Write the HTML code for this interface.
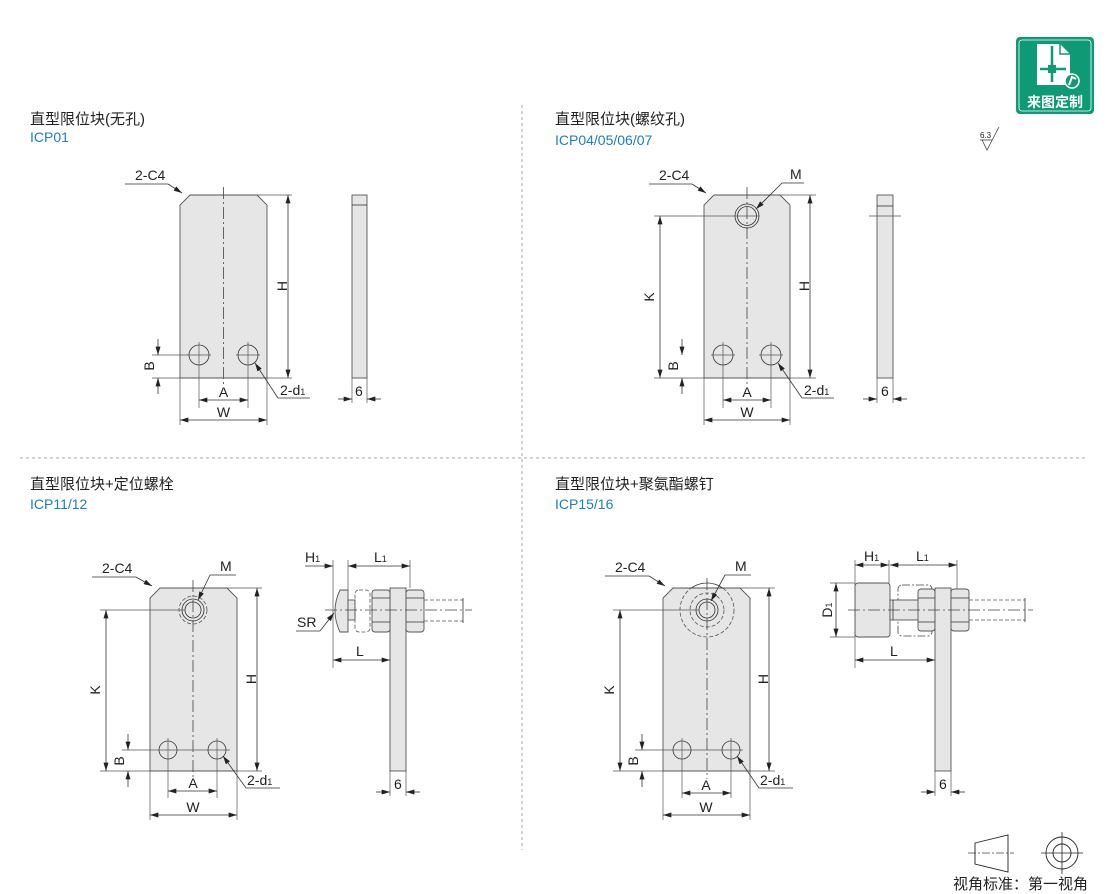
<!DOCTYPE html>
<html><head><meta charset="utf-8"><style>
html,body{margin:0;padding:0;background:#fff;}
svg{display:block;}
text{font-family:"Liberation Sans","Noto Sans CJK SC",sans-serif;fill:#222;}
.t{font-size:15px;}
.b{font-size:14px;fill:#1a7fc4;}
.d{font-size:14px;}
.ln{stroke:#333;stroke-width:0.8;fill:none;}
.ex{stroke:#555;stroke-width:0.7;fill:none;}
.pl{fill:#e6e6e6;stroke:#555;stroke-width:0.9;}
.cl{stroke:#444;stroke-width:0.8;stroke-dasharray:12 3 2 3;fill:none;}
.dsh{stroke:#555;stroke-width:0.8;stroke-dasharray:4 2;fill:none;}
</style></head><body>
<svg width="1110" height="894" viewBox="0 0 1110 894" xmlns="http://www.w3.org/2000/svg">
<defs>
<marker id="a" viewBox="0 0 10 6" refX="10" refY="3" markerWidth="9" markerHeight="5" orient="auto-start-reverse" markerUnits="userSpaceOnUse"><path d="M0,0 L10,3 L0,6 Z" fill="#222"/></marker>
</defs>

<line x1="522" y1="105" x2="522" y2="850" stroke="#aaa" stroke-dasharray="3 3"/>
<line x1="20" y1="458" x2="1085" y2="458" stroke="#aaa" stroke-dasharray="3 3"/>

<text x="30" y="124" class="t">直型限位块(无孔)</text>
<text x="30" y="142" class="b">ICP01</text>
<text x="555" y="124" class="t">直型限位块(螺纹孔)</text>
<text x="555" y="145" class="b">ICP04/05/06/07</text>
<text x="30" y="489" class="t">直型限位块+定位螺栓</text>
<text x="30" y="509" class="b">ICP11/12</text>
<text x="555" y="489" class="t">直型限位块+聚氨酯螺钉</text>
<text x="555" y="509" class="b">ICP15/16</text>

<rect x="1016" y="37" width="78" height="77" rx="4" fill="#0e9a74"/>
<rect x="1019" y="40" width="72" height="71" rx="3" fill="none" stroke="#fff" stroke-width="0.8"/>
<path d="M1037,44 H1060 L1070,54 V85 H1037 Z" fill="#fff"/>
<path d="M1060,44 V54 H1070" fill="none" stroke="#0e9a74" stroke-width="1.5"/>
<path d="M1052,46 V82 M1040,69 H1066" stroke="#0e9a74" stroke-width="2.5"/>
<rect x="1048" y="65" width="8" height="8" fill="#0e9a74"/>
<circle cx="1072" cy="81" r="7" fill="#0e9a74" stroke="#fff" stroke-width="1.5"/>
<path d="M1069,85 L1072,77 L1076,79" stroke="#fff" stroke-width="2" fill="none"/>
<text x="1055" y="107" text-anchor="middle" style="font-size:14px;font-weight:bold;fill:#fff">来图定制</text>

<text x="980" y="138" style="font-size:8px">6.3</text>
<path d="M980,140 H992 M982,140 L987,150 L999,127" stroke="#333" stroke-width="0.7" fill="none"/>

<g transform="translate(180,195)">
<path class="pl" d="M10,0 H77 L87,10 V183 H0 V10 Z"/>
<line class="cl" x1="43.5" y1="-8" x2="43.5" y2="191"/>
<circle cx="19" cy="160" r="10" class="ln"/><circle cx="68" cy="160" r="10" class="ln"/>
<path class="ex" d="M19,147 V213 M7,160 H31 M68,147 V213 M56,160 H80"/>
<path class="ex" d="M-28,160 H8 M-28,183 H112 M77,0 H112 M0,183 V230 M87,183 V230"/>
<line class="ln" x1="108" y1="0" x2="108" y2="183" marker-start="url(#a)" marker-end="url(#a)"/>
<text x="107" y="91" class="d" transform="rotate(-90 107 91)" text-anchor="middle">H</text>
<line class="ln" x1="0" y1="225" x2="87" y2="225" marker-start="url(#a)" marker-end="url(#a)"/>
<text x="43.5" y="222" class="d" text-anchor="middle">W</text>
<line class="ln" x1="19" y1="205" x2="68" y2="205" marker-start="url(#a)" marker-end="url(#a)"/>
<text x="43.5" y="202" class="d" text-anchor="middle">A</text>
<line class="ln" x1="-22" y1="144" x2="-22" y2="160" marker-end="url(#a)"/>
<line class="ln" x1="-22" y1="199" x2="-22" y2="183" marker-end="url(#a)"/>
<text x="-26" y="171" class="d" transform="rotate(-90 -26 171)" text-anchor="middle">B</text>
<text x="-45" y="-15" class="d">2-C4</text>
<path class="ln" d="M-55,-11 H-12"/><line class="ln" x1="-12" y1="-11" x2="2" y2="-2" marker-end="url(#a)"/>
<line class="ln" x1="98" y1="203" x2="75" y2="168" marker-end="url(#a)"/><path class="ln" d="M98,203 H130"/>
<text x="100" y="200" class="d">2-d<tspan style="font-size:9px">1</tspan></text>
</g>
<rect x="352" y="195" width="15" height="183" class="pl"/>
<line x1="352" y1="205" x2="367" y2="205" class="ln"/>
<path class="ex" d="M352,378 V403 M367,378 V403"/>
<line class="ln" x1="338" y1="399" x2="352" y2="399" marker-end="url(#a)"/>
<line class="ln" x1="381" y1="399" x2="367" y2="399" marker-end="url(#a)"/>
<text x="355" y="396" class="d">6</text>

<g transform="translate(704,195)">
<path class="pl" d="M10,0 H76 L86,10 V183 H0 V10 Z"/>
<line class="cl" x1="43" y1="-8" x2="43" y2="191"/>
<circle cx="43" cy="21" r="12" class="ln"/><circle cx="43" cy="21" r="9.5" class="ln"/>
<circle cx="19" cy="160" r="10" class="ln"/><circle cx="67" cy="160" r="10" class="ln"/>
<path class="ex" d="M19,147 V213 M7,160 H31 M67,147 V213 M55,160 H79 M-50,21 H55"/>
<path class="ex" d="M-50,183 H112 M76,0 H112 M0,183 V230 M86,183 V230"/>
<line class="ln" x1="-44" y1="21" x2="-44" y2="183" marker-start="url(#a)" marker-end="url(#a)"/>
<text x="-50" y="102" class="d" transform="rotate(-90 -50 102)" text-anchor="middle">K</text>
<line class="ln" x1="106" y1="0" x2="106" y2="183" marker-start="url(#a)" marker-end="url(#a)"/>
<text x="105" y="91" class="d" transform="rotate(-90 105 91)" text-anchor="middle">H</text>
<line class="ln" x1="0" y1="225" x2="86" y2="225" marker-start="url(#a)" marker-end="url(#a)"/>
<text x="43" y="222" class="d" text-anchor="middle">W</text>
<line class="ln" x1="19" y1="205" x2="67" y2="205" marker-start="url(#a)" marker-end="url(#a)"/>
<text x="43" y="202" class="d" text-anchor="middle">A</text>
<line class="ln" x1="-22" y1="144" x2="-22" y2="160" marker-end="url(#a)"/>
<line class="ln" x1="-22" y1="199" x2="-22" y2="183" marker-end="url(#a)"/>
<text x="-26" y="171" class="d" transform="rotate(-90 -26 171)" text-anchor="middle">B</text>
<text x="-45" y="-15" class="d">2-C4</text>
<path class="ln" d="M-55,-11 H-12"/><line class="ln" x1="-12" y1="-11" x2="2" y2="-2" marker-end="url(#a)"/>
<text x="86" y="-16" class="d">M</text>
<path class="ln" d="M78,-12 H100"/><line class="ln" x1="78" y1="-12" x2="52" y2="14" marker-end="url(#a)"/>
<line class="ln" x1="98" y1="203" x2="74" y2="168" marker-end="url(#a)"/><path class="ln" d="M98,203 H130"/>
<text x="100" y="200" class="d">2-d<tspan style="font-size:9px">1</tspan></text>
</g>
<rect x="877" y="195" width="16" height="183" class="pl"/>
<line x1="877" y1="206" x2="893" y2="206" class="ln"/>
<line x1="869" y1="216" x2="901" y2="216" class="ex"/>
<path class="ex" d="M877,378 V403 M893,378 V403"/>
<line class="ln" x1="863" y1="399" x2="877" y2="399" marker-end="url(#a)"/>
<line class="ln" x1="907" y1="399" x2="893" y2="399" marker-end="url(#a)"/>
<text x="881" y="396" class="d">6</text>

<g transform="translate(150,588)">
<path class="pl" d="M10,0 H77 L87,10 V183 H0 V10 Z"/>
<line class="cl" x1="43" y1="-8" x2="43" y2="191"/>
<circle cx="43" cy="22" r="14" class="dsh"/>
<circle cx="43" cy="22" r="11" class="ln"/><circle cx="43" cy="22" r="8" class="ln"/>
<circle cx="18" cy="162" r="9" class="ln"/><circle cx="67" cy="162" r="9" class="ln"/>
<path class="ex" d="M18,150 V210 M67,150 V210 M-28,162 H80 M-50,22 H35"/>
<path class="ex" d="M-50,183 H112 M77,0 H112 M0,183 V232 M87,183 V232"/>
<line class="ln" x1="-44" y1="22" x2="-44" y2="183" marker-start="url(#a)" marker-end="url(#a)"/>
<text x="-50" y="102" class="d" transform="rotate(-90 -50 102)" text-anchor="middle">K</text>
<line class="ln" x1="107" y1="0" x2="107" y2="183" marker-start="url(#a)" marker-end="url(#a)"/>
<text x="106" y="91" class="d" transform="rotate(-90 106 91)" text-anchor="middle">H</text>
<line class="ln" x1="0" y1="227" x2="87" y2="227" marker-start="url(#a)" marker-end="url(#a)"/>
<text x="43" y="224" class="d" text-anchor="middle">W</text>
<line class="ln" x1="18" y1="203" x2="67" y2="203" marker-start="url(#a)" marker-end="url(#a)"/>
<text x="43" y="200" class="d" text-anchor="middle">A</text>
<line class="ln" x1="-22" y1="146" x2="-22" y2="162" marker-end="url(#a)"/>
<line class="ln" x1="-22" y1="199" x2="-22" y2="183" marker-end="url(#a)"/>
<text x="-26" y="173" class="d" transform="rotate(-90 -26 173)" text-anchor="middle">B</text>
<text x="-48" y="-15" class="d">2-C4</text>
<path class="ln" d="M-58,-11 H-14"/><line class="ln" x1="-14" y1="-11" x2="2" y2="-2" marker-end="url(#a)"/>
<text x="70" y="-17" class="d">M</text>
<path class="ln" d="M60,-13 H86"/><line class="ln" x1="60" y1="-13" x2="48" y2="12" marker-end="url(#a)"/>
<line class="ln" x1="96" y1="200" x2="73" y2="168" marker-end="url(#a)"/><path class="ln" d="M96,200 H130"/>
<text x="97" y="197" class="d">2-d<tspan style="font-size:9px">1</tspan></text>
</g>
<rect x="390" y="588" width="16" height="183" class="pl"/>
<path d="M348,590 H340 Q330,611 340,632 H348 Z" class="pl"/>
<rect x="348" y="600" width="7" height="20" class="pl"/>
<rect x="355" y="590" width="15" height="42" rx="4" class="dsh" fill="#fff"/>
<rect x="372" y="590" width="18" height="42" rx="3" class="pl"/>
<path class="ln" d="M372,598 H390 M372,622 H390"/>
<rect x="406" y="590" width="18" height="42" rx="3" class="pl"/>
<path class="ln" d="M406,598 H424 M406,622 H424"/>
<path class="dsh" d="M424,600 H463 M424,621 H463"/><path class="ln" d="M463,598 V623"/>
<line class="cl" x1="325" y1="610" x2="472" y2="610"/>
<path class="ex" d="M333,560 V668 M348,560 V590 M410,560 V588"/>
<line class="ln" x1="305" y1="566" x2="333" y2="566" marker-end="url(#a)"/>
<line class="ln" x1="348" y1="566" x2="410" y2="566" marker-start="url(#a)" marker-end="url(#a)"/>
<text x="305" y="562" class="d">H<tspan style="font-size:9px">1</tspan></text>
<text x="374" y="562" class="d">L<tspan style="font-size:9px">1</tspan></text>
<line class="ln" x1="333" y1="660" x2="390" y2="660" marker-start="url(#a)" marker-end="url(#a)"/>
<text x="356" y="656" class="d">L</text>
<text x="297" y="627" class="d">SR</text>
<path class="ln" d="M296,631 H320"/><line class="ln" x1="320" y1="631" x2="334" y2="613" marker-end="url(#a)"/>
<path class="ex" d="M390,771 V796 M406,771 V796"/>
<line class="ln" x1="376" y1="792" x2="390" y2="792" marker-end="url(#a)"/>
<line class="ln" x1="420" y1="792" x2="406" y2="792" marker-end="url(#a)"/>
<text x="394" y="789" class="d">6</text>

<g transform="translate(663,588)">
<path class="pl" d="M10,0 H77 L87,10 V183 H0 V10 Z"/>
<path d="M28.4,0 A27,27 0 0 1 59.6,0" class="ln"/>
<circle cx="44" cy="22" r="27" class="dsh"/>
<circle cx="44" cy="22" r="17" class="dsh"/>
<circle cx="44" cy="22" r="11" class="ln"/><circle cx="44" cy="22" r="8" class="ln"/>
<line class="cl" x1="44" y1="-10" x2="44" y2="191"/>
<circle cx="19" cy="162" r="9" class="ln"/><circle cx="68" cy="162" r="9" class="ln"/>
<path class="ex" d="M19,150 V210 M68,150 V210 M-28,162 H80 M-50,22 H36"/>
<path class="ex" d="M-50,183 H112 M77,0 H112 M0,183 V232 M87,183 V232"/>
<line class="ln" x1="-43" y1="22" x2="-43" y2="183" marker-start="url(#a)" marker-end="url(#a)"/>
<text x="-49" y="102" class="d" transform="rotate(-90 -49 102)" text-anchor="middle">K</text>
<line class="ln" x1="106" y1="0" x2="106" y2="183" marker-start="url(#a)" marker-end="url(#a)"/>
<text x="105" y="91" class="d" transform="rotate(-90 105 91)" text-anchor="middle">H</text>
<line class="ln" x1="0" y1="227" x2="87" y2="227" marker-start="url(#a)" marker-end="url(#a)"/>
<text x="43" y="224" class="d" text-anchor="middle">W</text>
<line class="ln" x1="19" y1="205" x2="68" y2="205" marker-start="url(#a)" marker-end="url(#a)"/>
<text x="43" y="202" class="d" text-anchor="middle">A</text>
<line class="ln" x1="-21" y1="146" x2="-21" y2="162" marker-end="url(#a)"/>
<line class="ln" x1="-21" y1="199" x2="-21" y2="183" marker-end="url(#a)"/>
<text x="-25" y="173" class="d" transform="rotate(-90 -25 173)" text-anchor="middle">B</text>
<text x="-48" y="-16" class="d">2-C4</text>
<path class="ln" d="M-58,-12 H-14"/><line class="ln" x1="-14" y1="-12" x2="2" y2="-2" marker-end="url(#a)"/>
<text x="72" y="-17" class="d">M</text>
<path class="ln" d="M62,-13 H88"/><line class="ln" x1="62" y1="-13" x2="48" y2="13" marker-end="url(#a)"/>
<line class="ln" x1="96" y1="200" x2="74" y2="168" marker-end="url(#a)"/><path class="ln" d="M96,200 H130"/>
<text x="97" y="197" class="d">2-d<tspan style="font-size:9px">1</tspan></text>
</g>
<rect x="898" y="585" width="34" height="51" rx="4" class="cl" style="stroke-dasharray:8 2 2 2"/>
<rect x="855" y="583" width="35" height="54" rx="3" class="pl"/>
<rect x="890" y="600" width="45" height="20" class="pl"/>
<path class="ln" d="M893,600 V620"/>
<rect x="918" y="589" width="17" height="42" rx="3" class="pl"/>
<path class="ln" d="M918,598 H935 M918,622 H935"/>
<rect x="935" y="588" width="16" height="183" class="pl"/>
<rect x="951" y="589" width="18" height="42" rx="3" class="pl"/>
<path class="ln" d="M951,598 H969 M951,622 H969"/>
<path class="dsh" d="M969,600 H1025 M969,620 H1025"/><path class="ln" d="M1025,598 V622"/>
<line class="cl" x1="848" y1="610" x2="1033" y2="610"/>
<path class="ex" d="M855,560 V668 M889,560 V583 M957,560 V589 M830,583 H855 M830,637 H855"/>
<line class="ln" x1="855" y1="565" x2="889" y2="565" marker-start="url(#a)" marker-end="url(#a)"/>
<line class="ln" x1="890" y1="565" x2="957" y2="565" marker-start="url(#a)" marker-end="url(#a)"/>
<text x="864" y="561" class="d">H<tspan style="font-size:9px">1</tspan></text>
<text x="916" y="561" class="d">L<tspan style="font-size:9px">1</tspan></text>
<line class="ln" x1="836" y1="583" x2="836" y2="637" marker-start="url(#a)" marker-end="url(#a)"/>
<text x="832" y="610" class="d" transform="rotate(-90 832 610)" text-anchor="middle">D<tspan style="font-size:9px">1</tspan></text>
<line class="ln" x1="855" y1="660" x2="935" y2="660" marker-start="url(#a)" marker-end="url(#a)"/>
<text x="890" y="656" class="d">L</text>
<path class="ex" d="M935,771 V796 M951,771 V796"/>
<line class="ln" x1="921" y1="792" x2="935" y2="792" marker-end="url(#a)"/>
<line class="ln" x1="965" y1="792" x2="951" y2="792" marker-end="url(#a)"/>
<text x="939" y="789" class="d">6</text>

<path d="M975,843 L1008,835 V872 L975,864 Z" fill="none" stroke="#222" stroke-width="0.9"/>
<line class="cl" x1="968" y1="853" x2="1014" y2="853" style="stroke-dasharray:8 2 2 2"/>
<circle cx="1062" cy="853" r="16" fill="none" stroke="#222" stroke-width="0.9"/>
<circle cx="1062" cy="853" r="9" fill="none" stroke="#222" stroke-width="0.9"/>
<path d="M1062,832 V874 M1041,853 H1083" stroke="#222" stroke-width="0.8"/>
<text x="953" y="889" style="font-size:15px">视角标准：第一视角</text>
</svg>
</body></html>
